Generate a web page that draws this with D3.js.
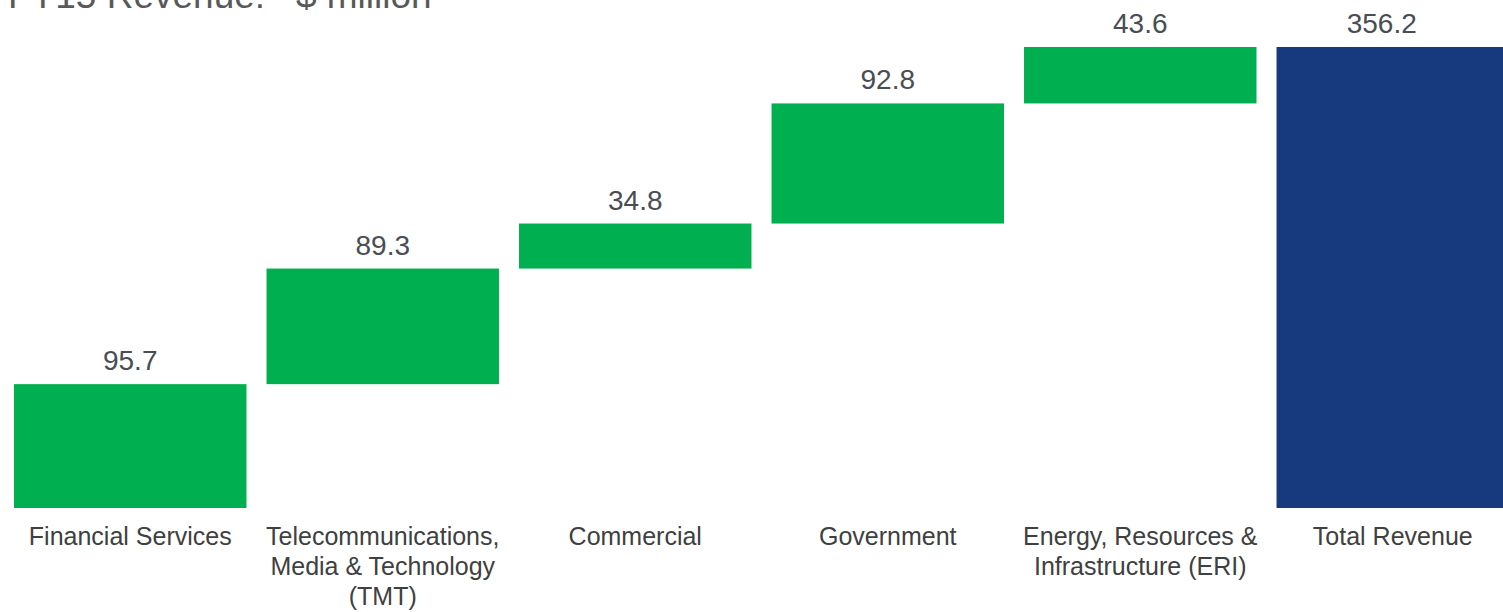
<!DOCTYPE html>
<html>
<head>
<meta charset="utf-8">
<script src="https://cdn.jsdelivr.net/npm/d3@7"></script>
<style>
  html, body { margin: 0; padding: 0; background: #fff; overflow: hidden; }
  svg { display: block; font-family: Arial, "Liberation Sans", sans-serif; }
</style>
</head>
<body>
<div id="chart"></div>
<script>
// waterfall data, FY15 revenue by segment
var categories = [
    ["Financial Services"],
    ["Telecommunications,", "Media & Technology", "(TMT)"],
    ["Commercial"],
    ["Government"],
    ["Energy, Resources &", "Infrastructure (ERI)"],
    ["Total Revenue"]
];
var values = [95.7, 89.3, 34.8, 92.8, 43.6];
var total = 356.2;
var valueLabels = ["95.7", "89.3", "34.8", "92.8", "43.6", "356.2"];
var title = "FY15 Revenue:\u00a0\u00a0\u00a0$ million";

(function() {
    var width = 1503, height = 612;

    var svg = d3.select("#chart").append("svg")
        .attr("width", width)
        .attr("height", height);

    // build the floating steps
    var bars = [];
    var run = 0;
    values.forEach(function(v, i) {
        bars.push({i: i, start: run, end: run + v, total: false});
        run += v;
    });
    bars.push({i: values.length, start: 0, end: total, total: true});

    var x = d3.scaleBand()
        .domain(d3.range(categories.length))
        .range([14, 1509])
        .paddingInner(20 / 252)
        .paddingOuter(0);

    var y = d3.scaleLinear()
        .domain([0, total])
        .range([508, 47]);

    // title sits mostly above the top edge, as in the source slide
    svg.append("text")
        .attr("x", 8)
        .attr("y", 8)
        .attr("font-size", "37px")
        .attr("fill", "#595959")
        .text(title);

    svg.append("g").selectAll("rect")
        .data(bars)
        .enter().append("rect")
        .attr("x", d => x(d.i))
        .attr("y", d => y(d.end))
        .attr("width", x.bandwidth())
        .attr("height", d => y(d.start) - y(d.end))
        .attr("fill", d => d.total ? "#17397e" : "#00af50");

    svg.append("g").selectAll("text")
        .data(bars)
        .enter().append("text")
        .attr("x", d => d.total ? (x(d.i) + width) / 2 - 8 : x(d.i) + x.bandwidth() / 2)
        .attr("y", d => y(d.end) - 14)
        .attr("text-anchor", "middle")
        .attr("font-size", "28px")
        .attr("fill", "#4a4d54")
        .text((d, i) => valueLabels[i]);

    var xAxis = d3.axisBottom(x).tickSize(0).tickFormat("");
    var ax = svg.append("g")
        .attr("transform", "translate(0,508)")
        .call(xAxis);
    ax.select(".domain").remove();

    ax.selectAll(".tick").each(function(d) {
        var t = d3.select(this).append("text")
            .attr("text-anchor", "middle")
            .attr("font-size", "25px")
            .attr("fill", "#404040");
        categories[d].forEach(function(line, k) {
            t.append("tspan")
                .attr("x", 0)
                .attr("y", 37 + k * 30)
                .text(line);
        });
    });
})();
</script>
</body>
</html>
